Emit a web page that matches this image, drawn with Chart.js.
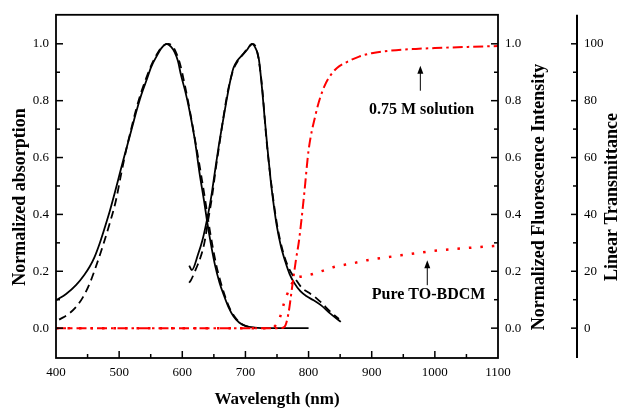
<!DOCTYPE html>
<html>
<head>
<meta charset="utf-8">
<script src="https://cdn.jsdelivr.net/npm/chart.js@4.4.1/dist/chart.umd.min.js"></script>
<style>
  html, body { margin: 0; padding: 0; background: #fff; }
  #wrap { width: 621px; height: 411px; position: relative; }
</style>
</head>
<body>
<div id="wrap"><canvas id="c"></canvas></div>
<script>
// absorption (left axis)
const absWl    = [400, 416, 432, 445, 453, 461, 469, 477, 485, 493, 500, 507, 514, 521, 527, 535, 543, 551, 559, 567, 575, 582, 588, 593, 598, 605, 611, 620, 627, 635, 639, 645, 652, 659, 666, 673, 681, 690, 700, 715, 740, 800];
const absSolid = [0.098, 0.12, 0.152, 0.188, 0.215, 0.25, 0.297, 0.352, 0.41, 0.475, 0.535, 0.595, 0.652, 0.71, 0.76, 0.82, 0.87, 0.92, 0.955, 0.985, 1.0, 0.99, 0.97, 0.94, 0.89, 0.83, 0.77, 0.66, 0.55, 0.44, 0.38, 0.30, 0.22, 0.16, 0.115, 0.075, 0.042, 0.02, 0.008, 0.002, 0, 0];
const absDashWl = [405, 420, 432, 443, 453, 463, 474, 485, 495, 503, 511, 519, 527, 535, 543, 551, 559, 568, 578, 585, 591, 597, 603, 609, 614, 622, 629, 637, 641, 647, 654, 661, 668, 675, 683, 692, 702, 715];
const absDash   = [0.03, 0.05, 0.075, 0.11, 0.155, 0.215, 0.288, 0.368, 0.45, 0.54, 0.625, 0.70, 0.77, 0.83, 0.88, 0.925, 0.96, 0.99, 1.0, 0.99, 0.965, 0.925, 0.865, 0.80, 0.74, 0.64, 0.55, 0.44, 0.38, 0.30, 0.22, 0.16, 0.11, 0.07, 0.04, 0.018, 0.006, 0];

// fluorescence (first right axis)
const flWl    = [611, 615, 625, 632, 639, 645, 651, 657, 663, 670, 676, 681, 687, 695, 703, 710, 716, 721, 726, 730, 735, 740, 745, 750, 756, 763, 770, 777, 787, 797, 808, 820, 835, 851];
const flSolid = [0.22, 0.204, 0.26, 0.31, 0.38, 0.45, 0.54, 0.63, 0.71, 0.80, 0.87, 0.915, 0.94, 0.96, 0.98, 1.0, 0.985, 0.95, 0.85, 0.75, 0.63, 0.52, 0.43, 0.355, 0.29, 0.235, 0.19, 0.16, 0.13, 0.112, 0.098, 0.08, 0.05, 0.022];
const flDashWl = [611, 614, 622, 629, 635, 641, 647, 653, 659, 665, 671, 677, 682, 688, 695, 702, 708, 712, 717, 722, 727, 733, 740, 750, 760, 770, 780, 790, 800, 810, 820, 835, 848];
const flDash   = [0.16, 0.17, 0.21, 0.25, 0.30, 0.38, 0.46, 0.56, 0.65, 0.74, 0.82, 0.88, 0.915, 0.94, 0.96, 0.98, 0.995, 1.0, 0.985, 0.93, 0.835, 0.67, 0.525, 0.365, 0.265, 0.205, 0.17, 0.14, 0.125, 0.11, 0.09, 0.057, 0.032];

// transmittance (second right axis)
const solWl  = [400, 500, 600, 700, 755, 762, 768, 774, 780, 785, 793, 800, 811, 819, 827, 835, 845, 860, 880, 900, 930, 970, 1000, 1050, 1100];
const solVal = [0, 0, 0, 0, 0, 0.5, 5, 14.5, 24, 31, 47, 62.5, 75, 81.5, 86, 89, 91.5, 93.5, 95.5, 96.7, 97.6, 98.2, 98.5, 98.9, 99.2];
const pureWl  = [400, 600, 740, 748, 755, 761, 771, 779, 790, 803, 820, 840, 870, 893, 920, 946, 975, 999, 1052, 1100];
const pureVal = [0, 0, 0, 1, 4, 8.7, 14.5, 17.4, 18.2, 18.8, 20, 21.5, 22.8, 23.9, 24.8, 25.6, 26.5, 27.2, 28.2, 29];

const xTicks = [400, 500, 600, 700, 800, 900, 1000, 1100];
const yTicks = [0, 0.2, 0.4, 0.6, 0.8, 1.0];
const tTicks = [0, 20, 40, 60, 80, 100];

const serif = "'Liberation Serif', 'Times New Roman', serif";
Chart.defaults.font.family = serif;
Chart.defaults.font.size = 13;
Chart.defaults.color = '#000';

function pts(xs, ys) {
  return xs.map((x, i) => ({ x: x, y: ys[i] }));
}

function line(ctx, x1, y1, x2, y2) {
  ctx.beginPath();
  ctx.moveTo(x1, y1);
  ctx.lineTo(x2, y2);
  ctx.stroke();
}

function arrowUp(ctx, x, yBottom, yTip) {
  ctx.lineWidth = 1;
  line(ctx, x, yBottom, x, yTip + 6);
  ctx.beginPath();
  ctx.moveTo(x, yTip);
  ctx.lineTo(x - 3, yTip + 8);
  ctx.lineTo(x + 3, yTip + 8);
  ctx.closePath();
  ctx.fill();
}

// frame, inward ticks, axis titles, notes
const framePlugin = {
  id: 'frame',
  afterDraw(chart) {
    const { ctx, chartArea: a, scales } = chart;
    const x = scales.x, y = scales.y, y3 = scales.y3;
    const x3 = y3.left;
    ctx.save();
    ctx.strokeStyle = '#000';
    ctx.fillStyle = '#000';
    ctx.lineWidth = 1.8;
    ctx.strokeRect(a.left, a.top, a.right - a.left, a.bottom - a.top);
    ctx.lineWidth = 2;
    line(ctx, x3, a.top, x3, a.bottom);

    ctx.lineWidth = 1.5;
    for (let w = 450; w < 1100; w += 50) {
      const px = x.getPixelForValue(w);
      line(ctx, px, a.bottom, px, a.bottom - (w % 100 === 0 ? 7 : 4));
    }
    for (let k = 0; k <= 10; k++) {
      const py = y.getPixelForValue(k / 10);
      const len = k % 2 === 0 ? 7 : 4;
      line(ctx, a.left, py, a.left + len, py);
      line(ctx, a.right, py, a.right - len, py);
      const pt = y3.getPixelForValue(k * 10);
      line(ctx, x3, pt, x3 - (k % 2 === 0 ? 6 : 4), pt);
    }

    ctx.textAlign = 'center';
    ctx.textBaseline = 'middle';
    ctx.font = 'bold 17px ' + serif;
    ctx.fillText('Wavelength (nm)', (a.left + a.right) / 2, 400);

    ctx.font = 'bold 18px ' + serif;
    const cy = 197;
    [[20, 'Normalized absorption'], [539, 'Normalized Fluorescence Intensity'], [612, 'Linear Transmittance']].forEach(t => {
      ctx.save();
      ctx.translate(t[0], cy);
      ctx.rotate(-Math.PI / 2);
      ctx.fillText(t[1], 0, 0);
      ctx.restore();
    });

    // notes, placed in data units of the transmittance axis
    ctx.font = 'bold 16px ' + serif;
    ctx.fillText('0.75 M solution', x.getPixelForValue(979), y3.getPixelForValue(76.8));
    ctx.fillText('Pure TO-BDCM', x.getPixelForValue(990), y3.getPixelForValue(11.6));
    arrowUp(ctx, x.getPixelForValue(977), y3.getPixelForValue(83.5), y3.getPixelForValue(92.3));
    arrowUp(ctx, x.getPixelForValue(988), y3.getPixelForValue(15.1), y3.getPixelForValue(23.9));
    ctx.restore();
  }
};

function setTicks(list) {
  return s => { s.ticks = list.map(v => ({ value: v })); };
}

const ctx = document.getElementById('c');
new Chart(ctx, {
  type: 'line',
  data: {
    datasets: [
      { data: pts(solWl, solVal), yAxisID: 'y3', borderColor: '#ff0000', borderWidth: 2, borderDash: [10, 4, 2.5, 4] },
      { data: pts(pureWl, pureVal), yAxisID: 'y3', borderColor: '#ff0000', borderWidth: 2.5, borderDash: [2.5, 9] },
      { data: pts(absWl, absSolid), yAxisID: 'y', borderColor: '#000', borderWidth: 1.8 },
      { data: pts(absDashWl, absDash), yAxisID: 'y', borderColor: '#000', borderWidth: 1.8, borderDash: [8, 5] },
      { data: pts(flWl, flSolid), yAxisID: 'y2', borderColor: '#000', borderWidth: 1.8 },
      { data: pts(flDashWl, flDash), yAxisID: 'y2', borderColor: '#000', borderWidth: 1.8, borderDash: [8, 5] }
    ]
  },
  options: {
    responsive: true,
    maintainAspectRatio: false,
    animation: false,
    layout: { padding: { top: 14, left: 0, right: 0, bottom: 0 } },
    elements: {
      point: { radius: 0 },
      line: { cubicInterpolationMode: 'monotone', fill: false }
    },
    plugins: {
      legend: { display: false },
      tooltip: { enabled: false }
    },
    scales: {
      x: {
        type: 'linear', position: 'bottom', min: 400, max: 1100,
        grid: { display: false, drawTicks: false }, border: { display: false },
        ticks: { padding: 7, autoSkip: false, maxRotation: 0, callback: v => String(v) },
        afterBuildTicks: setTicks(xTicks),
        afterFit: s => { s.height = 53; }
      },
      y: {
        position: 'left', min: -0.105, max: 1.102,
        grid: { display: false, drawTicks: false }, border: { display: false },
        ticks: { padding: 7, callback: v => v.toFixed(1) },
        afterBuildTicks: setTicks(yTicks),
        afterFit: s => { s.width = 56; }
      },
      y2: {
        position: 'right', weight: 0, min: -0.105, max: 1.102,
        grid: { display: false, drawTicks: false }, border: { display: false },
        ticks: { padding: 7, callback: v => v.toFixed(1) },
        afterBuildTicks: setTicks(yTicks),
        afterFit: s => { s.width = 79; }
      },
      y3: {
        position: 'right', weight: 1, min: -10.5, max: 110.2,
        grid: { display: false, drawTicks: false }, border: { display: false },
        ticks: { padding: 7, callback: v => String(v) },
        afterBuildTicks: setTicks(tTicks),
        afterFit: s => { s.width = 44; }
      }
    }
  },
  plugins: [framePlugin]
});
</script>
</body>
</html>
